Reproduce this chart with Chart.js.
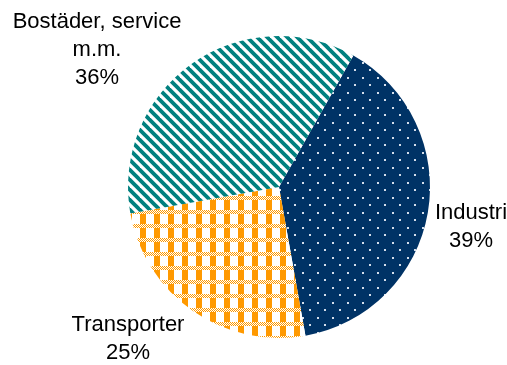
<!DOCTYPE html>
<html lang="sv">
<head>
  <meta charset="UTF-8">
  <title>Energianvändning per sektor</title>
  <script src="https://cdn.jsdelivr.net/npm/chart.js"></script>
  <style>
    body { margin: 0; background: #ffffff; }
    #wrap { width: 507px; height: 365px; }
  </style>
</head>
<body>
  <div id="wrap"><canvas id="sektorer"></canvas></div>

  <script>
    const sectors = ['Industri', 'Transporter', 'Bostäder, service m.m.'];
    const sectorLines = [['Industri'], ['Transporter'], ['Bostäder, service', 'm.m.']];
    const shares = [39, 25, 36];

    // fill patterns for the three slices
    function makeTile(w, h, draw) {
      const c = document.createElement('canvas');
      c.width = w; c.height = h;
      const g = c.getContext('2d');
      draw(g);
      return g.createPattern(c, 'repeat');
    }

    const dots = makeTile(15, 15, g => {
      g.fillStyle = '#003366';
      g.fillRect(0, 0, 15, 15);
      g.fillStyle = '#d4deeb';
      g.fillRect(2, 2, 2, 2);
      g.fillRect(9, 9, 2, 2);
    });

    const gingham = makeTile(14, 14, g => {
      g.fillStyle = '#ffffff';
      g.fillRect(0, 0, 14, 14);
      g.fillStyle = '#ff9900';
      g.fillRect(0, 0, 6, 14);
      for (let y = 0; y < 4; y++) {
        for (let x = 0; x < 14; x++) {
          g.fillStyle = (x + y) % 2 ? '#ffffff' : '#ff9900';
          g.fillRect(x, y, 1, 1);
        }
      }
    });

    const stripes = makeTile(10, 10, g => {
      g.fillStyle = '#ffffff';
      g.fillRect(0, 0, 10, 10);
      g.strokeStyle = '#00807f';
      g.lineWidth = 3.8;
      for (let k = -1; k <= 1; k++) {
        g.beginPath();
        g.moveTo(-3, -3 + k * 10);
        g.lineTo(13, 13 + k * 10);
        g.stroke();
      }
    });

    // labels drawn outside the pie, centred on an offset from the pie centre
    const outsideLabels = {
      id: 'outsideLabels',
      afterDatasetsDraw(chart, args, opts) {
        const ctx = chart.ctx;
        const meta = chart.getDatasetMeta(0);
        const total = shares.reduce((a, b) => a + b, 0);
        ctx.save();
        ctx.font = '22px "Liberation Sans", Arial, sans-serif';
        ctx.fillStyle = '#000000';
        ctx.textAlign = 'center';
        ctx.textBaseline = 'middle';
        meta.data.forEach((arc, i) => {
          const lines = sectorLines[i].concat([Math.round(shares[i] / total * 100) + '%']);
          const off = opts.offsets[i];
          const cx = arc.x + off[0];
          const cy = arc.y + off[1];
          const top = cy - (lines.length - 1) * opts.lineHeight / 2;
          lines.forEach((t, j) => ctx.fillText(t, cx, top + j * opts.lineHeight));
        });
        ctx.restore();
      }
    };

    new Chart(document.getElementById('sektorer'), {
      type: 'pie',
      data: {
        labels: sectors,
        datasets: [{
          data: shares,
          backgroundColor: [dots, gingham, stripes],
          borderWidth: 0
        }]
      },
      options: {
        responsive: true,
        maintainAspectRatio: false,
        animation: false,
        rotation: 29.5,
        layout: { padding: { left: 128, right: 77, top: 36, bottom: 27 } },
        plugins: {
          legend: { display: false },
          tooltip: { enabled: false },
          outsideLabels: {
            lineHeight: 28,
            offsets: [[192, 40], [-151, 152], [-182, -137]]
          }
        }
      },
      plugins: [outsideLabels]
    });
  </script>
</body>
</html>
